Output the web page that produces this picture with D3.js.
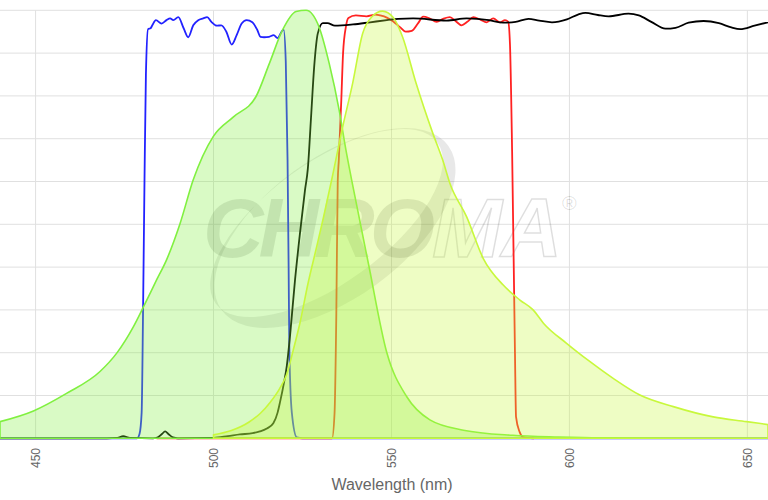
<!DOCTYPE html>
<html>
<head>
<meta charset="utf-8">
<script src="https://cdn.jsdelivr.net/npm/d3@7"></script>
<style>
  body { margin: 0; background: #fff; }
  text { font-family: "Liberation Sans", Arial, sans-serif; }
</style>
</head>
<body>
<script>
// spectra, [wavelength nm, % value]
const excitation = [[440,3.9],[449.4,6.4],[458.7,10.5],[468.1,15.6],[472.8,19.9],[477.5,26.1],[480.3,30.7],[484,37],
  [486.8,41.7],[490.6,50.2],[494.3,60.4],[499.9,70.5],[505.6,75.1],[511.9,79.8],[515.7,87.6],[519.4,95.4],
  [523.2,99.7],[526,100],[529.7,96],[532.5,87.6],[535.3,76.7],[537.2,67.4],[538.8,60.4],[543.5,40.9],
  [548.7,20],[554.3,9.7],[560.8,4.3],[570.2,1.9],[584.1,0.7],[597,0.3],[608.6,0.1],[655.8,0]];

const emission = [[500,0.8],[505,1.8],[510,3.8],[513.1,5.8],[516,8.5],[518.5,11.5],[520.6,15],[522.4,20.6],
  [524.3,27],[526.5,36],[529,44.8],[531,52],[533.2,60.4],[536.3,72.8],[539.1,83],[541.9,94.6],[544.5,98.5],
  [547.5,99.8],[550.5,98.3],[553.1,93.8],[556.9,83],[561.6,71.3],[564.4,65],[566.4,59.6],[571.1,51.8],
  [575.8,42],[581.4,35.8],[586.1,32.3],[589.8,30],[592.7,26.9],[599.2,22.2],[605.8,17.9],[612.3,14],
  [619.8,10.1],[629.2,7.4],[640.4,5],[649.8,3.9],[655.8,3.2]];

const exciter = [[440,0],[478.5,0],[479.2,1],[479.8,6],[480.2,30],[480.6,60],[481,85],[481.6,95.6],[482.3,95.8],
  [482.8,96.5],[483.8,97.7],[485.4,96.9],[486.8,97.7],[487.8,98.1],[488.7,97.7],[490.1,98.4],[491.6,95.8],
  [492.9,93.7],[494.3,96.5],[495.7,97.7],[497.1,98.1],[498.2,98.4],[499.4,97.3],[500.9,96.4],[502.2,96.5],
  [503.6,95],[505.1,92],[506.5,94.2],[507.9,96.9],[509.3,97.7],[510.9,97.2],[512.3,95.4],[513.2,93.8],
  [514.2,93.7],[515.6,93.8],[516.9,94.2],[518,93.5],[519.2,95.1],[519.7,95.5],[520.3,88],[520.8,65],
  [521.1,40],[521.3,21],[522,6],[523.4,0.2],[525,0],[655.8,0]];

const dichroic = [[440,0],[470,0],[473,0.1],[474.6,0.5],[476.5,0.1],[483,0],[484.5,0.3],[485.5,1],[486.4,1.6],
  [487.3,1],[488.6,0.2],[490,0],[500,0.1],[504,0.5],[507.4,0.9],[511,1.2],[513,1.6],[515,2.3],[516.8,3.5],
  [518,6],[518.7,8.5],[519.8,13],[520.6,17],[521.5,24],[522.9,37],[524.3,48],[525.7,58],[526.5,63],
  [527.4,75],[528.3,87],[529.3,94.6],[530.7,97],[532,97],[534.1,96.4],[539.2,96.7],[544,97.2],[548.7,97.7],
  [551.9,98],[556.1,98.1],[565.5,97.6],[571.1,98.1],[577.4,97.7],[581.4,97.1],[584.9,97.3],[588.5,98],
  [591.5,97.6],[595.1,97.2],[599.3,97.9],[602.4,99],[604.5,99.4],[608,98.9],[611,98.6],[616.6,99.2],
  [619.5,98.8],[623,97.3],[627,95.7],[629.8,95.9],[633.5,97.1],[637.7,97.5],[642,97],[645.5,96],
  [648,95.6],[652,96.4],[655.8,97.2]];

const emitter = [[484,0],[533.3,0],[534,5.8],[534.5,29],[534.9,60],[535.2,65],[535.9,79],[536.4,90],
  [537.2,96.2],[537.9,98.2],[540,98.8],[543,98.6],[545.6,99],[546.8,98.8],[548.7,98.3],[550.5,97.4],
  [552.5,96],[554,95],[555.7,95.2],[557.5,97],[558.9,98.5],[560.5,98.2],[562.7,97.3],[564.5,98],
  [566.4,98.4],[568,97.5],[569.7,96.5],[571.3,97.3],[573,98.4],[575,97.8],[576.7,97.2],[578.6,98.1],
  [580.5,97.2],[581.9,97.7],[582.8,97.3],[583.3,92],[583.9,67],[584.7,20],[585,5],[586,1.5],[587,0.3],[590,0]];

const xTicks = [450, 500, 550, 600, 650];
const yTicks = [0, 10, 20, 30, 40, 50, 60, 70, 80, 90, 100];

const width = 768, height = 500;

const svg = d3.select("body").append("svg")
    .attr("width", width)
    .attr("height", height);

const x = d3.scaleLinear().domain([440, 655.8]).range([0, width]);
const y = d3.scaleLinear().domain([0, 100]).range([438.3, 10.3]);

// grid
svg.append("g").selectAll("line.v")
    .data(xTicks).enter().append("line")
    .attr("x1", d => x(d)).attr("x2", d => x(d))
    .attr("y1", y(100)).attr("y2", y(0))
    .style("stroke", "#e0e0e0");
svg.append("g").selectAll("line.h")
    .data(yTicks).enter().append("line")
    .attr("x1", 0).attr("x2", width)
    .attr("y1", d => y(d)).attr("y2", d => y(d))
    .style("stroke", "#e0e0e0");

// watermark
const wm = svg.append("g").attr("class", "watermark");
wm.append("path")
    .attr("fill-rule", "evenodd")
    .attr("fill", "rgba(0,0,0,0.09)")
    .attr("transform", "translate(335,228) rotate(-36)")
    .attr("d", () => {
        const ell = (cx, cy, rx, ry) =>
            `M${cx - rx},${cy} a${rx},${ry} 0 1,0 ${2 * rx},0 a${rx},${ry} 0 1,0 ${-2 * rx},0 Z`;
        return ell(0, 0, 140, 70) + ell(-4, -9, 137, 60);
    });
wm.append("text")
    .attr("x", 203).attr("y", 257)
    .style("font-size", "84px").style("font-weight", "bold").style("font-style", "italic")
    .attr("textLength", 232)
    .style("fill", "rgba(0,0,0,0.12)")
    .text("CHRO");
wm.append("text")
    .attr("x", 432).attr("y", 257)
    .style("font-size", "84px").style("font-weight", "bold").style("font-style", "italic")
    .attr("textLength", 130)
    .style("fill", "none").style("stroke", "rgba(0,0,0,0.13)").style("stroke-width", 1.5)
    .text("MA");
wm.append("text")
    .attr("x", 562).attr("y", 210)
    .style("font-size", "20px")
    .style("fill", "rgba(0,0,0,0.12)")
    .text("®");

const line = d3.line()
    .x(d => x(d[0]))
    .y(d => y(d[1]))
    .curve(d3.curveMonotoneX);

const area = d3.area()
    .x(d => x(d[0]))
    .y0(y(0))
    .y1(d => y(d[1]))
    .curve(d3.curveMonotoneX);

// filter curves
const lines = [
    { data: exciter, color: "#2222ff" },
    { data: emitter, color: "#ff2222" },
    { data: dichroic, color: "#000000" }
];
svg.selectAll(".filter")
    .data(lines).enter().append("path")
    .attr("class", "filter")
    .attr("d", d => line(d.data))
    .style("fill", "none")
    .style("stroke", d => d.color)
    .style("stroke-width", 1.8);

// dye spectra
const fills = [
    { data: excitation, color: "#80f040" },
    { data: emission, color: "#c8f83c" }
];
svg.selectAll(".dye")
    .data(fills).enter().append("path")
    .attr("class", "dye")
    .attr("d", d => area(d.data))
    .style("fill", d => d.color)
    .style("fill-opacity", 0.3)
    .style("stroke", d => d.color)
    .style("stroke-width", 1.6);

// x axis labels
svg.append("g").selectAll("text.tick")
    .data(xTicks).enter().append("text")
    .attr("class", "tick")
    .attr("transform", d => `translate(${x(d)},448) rotate(-90)`)
    .attr("text-anchor", "end")
    .attr("dy", "0.35em")
    .style("font-size", "12px")
    .style("fill", "#666")
    .text(d => d);

svg.append("text")
    .attr("x", 392).attr("y", 490)
    .attr("text-anchor", "middle")
    .style("font-size", "16px")
    .style("fill", "#666")
    .text("Wavelength (nm)");
</script>
</body>
</html>
